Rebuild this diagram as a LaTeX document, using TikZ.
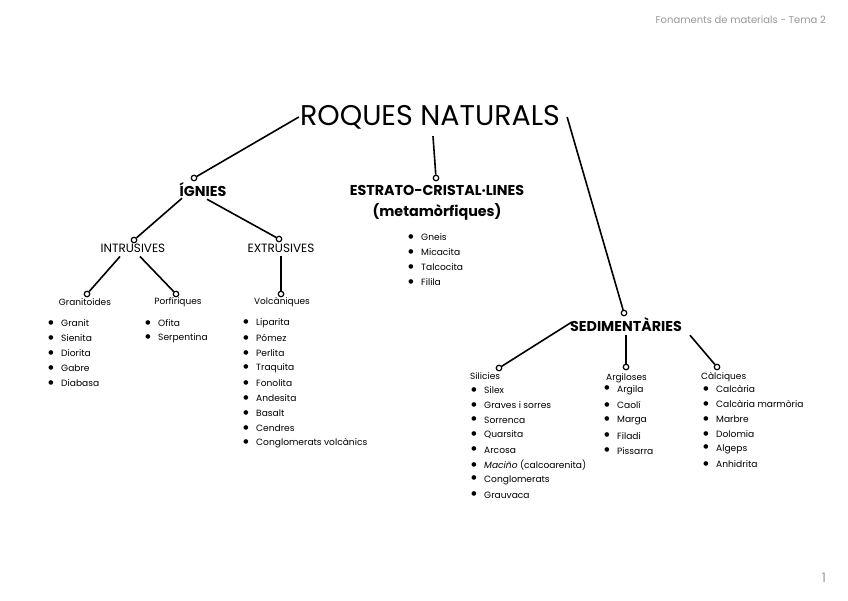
\documentclass[tikz,border=0pt]{standalone}
\usepackage{fontspec}
\setmainfont{Poppins}
\newfontfamily\dvfont{DejaVu Sans}
\usetikzlibrary{arrows.meta}
\definecolor{hdr}{gray}{0.6}
\tikzset{
  conn/.style={line width=1.6pt},
  dot/.style={circle, draw, line width=1.2pt, fill=white, inner sep=0pt, minimum size=5.5pt},
  title/.style={font=\fontsize{28.5}{32}\selectfont, inner sep=0pt},
  group/.style={font=\bfseries\fontsize{14.3}{16}\selectfont, inner sep=0pt},
  sub/.style={font=\fontsize{12}{14}\selectfont, inner sep=0pt},
  fam/.style={font=\fontsize{9}{10}\selectfont, inner sep=0pt},
  item/.style={font=\fontsize{9.1}{10}\selectfont, inner sep=0pt, anchor=west},
}
\newcommand{\bul}{\llap{\raisebox{0.45ex}{\dvfont\fontsize{6}{6}\selectfont ●}\hspace{7.5pt}}}
\begin{document}
\begin{tikzpicture}[x=1pt,y=-1pt]
\useasboundingbox[fill=white] (0,0) rectangle (848,600);
% header / page number
\node[font=\fontsize{10}{12}\selectfont, text=hdr, anchor=east, inner sep=0pt] (hd) at (826,20) {Fonaments de materials - Tema 2};
\node[font=\fontsize{13}{14}\selectfont, text=hdr, inner sep=0pt] (pg) at (824,578) {1};
% title
\node[title] (root) at (430,117) {ROQUES NATURALS};
% main groups
\node[group] (ign) at (203,190) {ÍGNIES};
\node[group] (met) at (437,190) {ESTRATO-CRISTAL·LINES};
\node[group] (met2) at (437,212) {(metamòrfiques)};
\node[group] (sed) at (626,325) {SEDIMENTÀRIES};
\node[dot] (dign) at (194,178) {};
\node[dot] (dmet) at (436,178) {};
\node[dot] (dsed) at (624,313) {};
\draw[conn] ([xshift=-1pt]root.west) -- (dign);
\draw[conn] ([xshift=3pt,yshift=-7pt]root.south) -- (dmet);
\draw[conn] ([xshift=7pt]root.east) -- (dsed);
% igneous
\node[sub] (intr) at (133,248) {INTRUSIVES};
\node[sub] (extr) at (281,248) {EXTRUSIVES};
\node[dot] (dintr) at (134,240) {};
\node[dot] (dextr) at (279,239) {};
\draw[conn] ([xshift=-21pt,yshift=-1pt]ign.south) -- (dintr);
\draw[conn] ([xshift=4pt,yshift=-2pt]ign.south) -- (dextr);
\node[fam] (gran) at (85,302) {Granitoides};
\node[fam] (porf) at (178,302) {Porfíriques};
\node[fam] (volc) at (282,302) {Volcàniques};
\node[dot] (dgran) at (87,294) {};
\node[dot] (dporf) at (176,294) {};
\node[dot] (dvolc) at (281,294) {};
\draw[conn] ([xshift=-13pt,yshift=-4pt]intr.south) -- (dgran);
\draw[conn] ([xshift=7pt,yshift=-4pt]intr.south) -- (dporf);
\draw[conn] ([yshift=-4pt]extr.south) -- (dvolc);
\foreach \t [count=\i] in {Granit,Sienita,Diorita,Gabre,Diabasa}
  \node[item] (ga\i) at (61,{323+15*(\i-1)}) {\bul\t};
\foreach \t [count=\i] in {Ofita,Serpentina}
  \node[item] (po\i) at (158,{323+15*(\i-1)}) {\bul\t};
\foreach \t [count=\i] in {Liparita,Pómez,Perlita,Traquita,Fonolita,Andesita,Basalt,Cendres,Conglomerats volcànics}
  \node[item] (vo\i) at (256,{323+15*(\i-1)}) {\bul\t};
% metamorphic
\foreach \t [count=\i] in {Gneis,Micacita,Talcocita,Filila}
  \node[item] (me\i) at (421,{237+15*(\i-1)}) {\bul\t};
% sedimentary
\node[fam, anchor=west] (sil) at (470,376) {Silicies};
\node[fam, anchor=west] (arg) at (606,378) {Argiloses};
\node[fam, anchor=west] (cal) at (701,377) {Càlciques};
\node[dot] (dsil) at (499,368) {};
\node[dot] (darg) at (626,367) {};
\node[dot] (dcal) at (717,367) {};
\draw[conn] ([xshift=2pt,yshift=3pt]sed.west) -- (dsil);
\draw[conn] ([yshift=-3pt]sed.south) -- (darg);
\draw[conn] ([xshift=64pt,yshift=-3pt]sed.south) -- (dcal);
\foreach \t [count=\i] in {Silex,Graves i sorres,Sorrenca,Quarsita,Arcosa,{\textit{Maciño} (calcoarenita)},Conglomerats,Grauvaca}
  \node[item] (si\i) at (484,{390+15*(\i-1)}) {\bul\t};
\foreach \t [count=\i] in {Argila,Caolí,Marga,Filadi,Pissarra}
  \node[item] (ar\i) at (617,{390+15.2*(\i-1)}) {\bul\t};
\foreach \t [count=\i] in {Calcària,Calcària marmòria,Marbre,Dolomia,Algeps,Anhidrita}
  \node[item] (ca\i) at (716,{389+15*(\i-1)}) {\bul\t};
\end{tikzpicture}
\end{document}
